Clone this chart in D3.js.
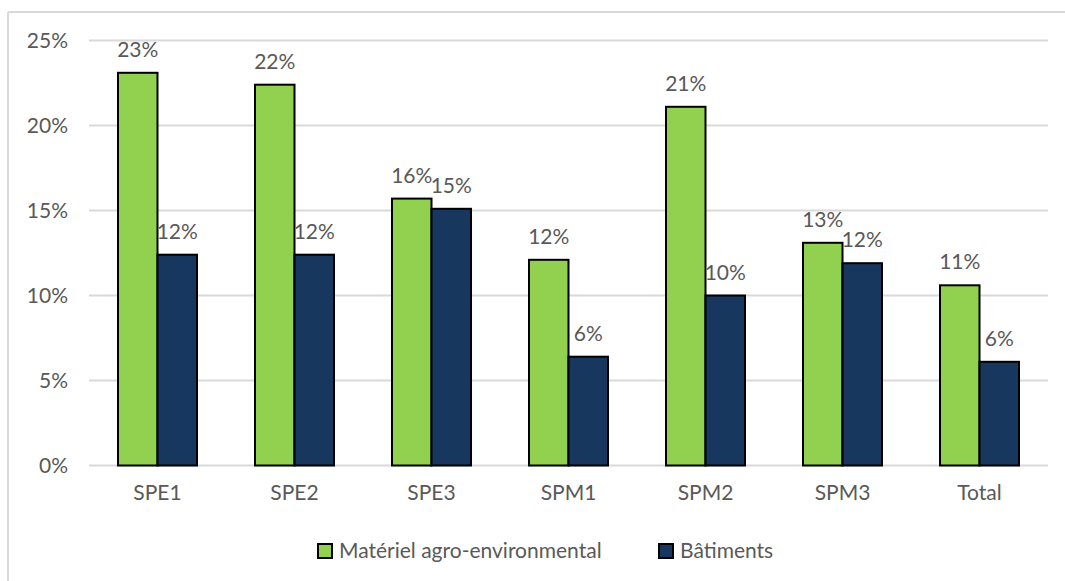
<!DOCTYPE html>
<html>
<head>
<meta charset="utf-8">
<script src="https://cdn.jsdelivr.net/npm/d3@7"></script>
<style>
  html, body { margin: 0; padding: 0; background: #fff; }
  svg { display: block; font-family: Lato, "Open Sans", sans-serif; }
</style>
</head>
<body>
<svg id="chart" width="1065" height="581"></svg>
<script>
// Share of investments by category and farm group
const categories = ["SPE1", "SPE2", "SPE3", "SPM1", "SPM2", "SPM3", "Total"];
const materiel = [0.231, 0.224, 0.157, 0.121, 0.211, 0.131, 0.106];
const batiments = [0.124, 0.124, 0.151, 0.064, 0.100, 0.119, 0.061];
const seriesNames = ["Matériel agro-environmental", "Bâtiments"];
const seriesColors = ["#92d050", "#17375e"];
const yTicks = [0, 0.05, 0.10, 0.15, 0.20, 0.25];

const svg = d3.select("#chart");
const W = 1065, H = 581;
const margin = { left: 89, right: 17, top: 40.5, bottom: 115.5 };
const innerW = W - margin.left - margin.right;
const innerH = H - margin.top - margin.bottom;
const textColor = "#595959";
const gridColor = "#d9d9d9";
const fontSize = "21px";

// Chart frame
svg.append("line").attr("x1", 8).attr("x2", W).attr("y1", 12).attr("y2", 12)
  .attr("stroke", gridColor).attr("stroke-width", 2);
svg.append("line").attr("x1", 8).attr("x2", 8).attr("y1", 12).attr("y2", H)
  .attr("stroke", gridColor).attr("stroke-width", 2);

const g = svg.append("g").attr("transform", `translate(${margin.left},${margin.top})`);

const x = d3.scaleBand().domain(categories).range([0, innerW]).paddingInner(0).paddingOuter(0);
const x1 = d3.scaleBand().domain([0, 1]).range([29, x.bandwidth() - 29]);
const y = d3.scaleLinear().domain([0, 0.25]).range([innerH, 0]);

// Gridlines
g.append("g").selectAll("line").data(yTicks).join("line")
  .attr("x1", 0).attr("x2", innerW)
  .attr("y1", d => y(d)).attr("y2", d => y(d))
  .attr("stroke", gridColor).attr("stroke-width", 2);

// Y axis labels
const yAxis = d3.axisLeft(y).tickValues(yTicks).tickFormat(d3.format(".0%")).tickSize(0).tickPadding(21);
g.append("g").call(yAxis)
  .call(s => s.select(".domain").remove())
  .call(s => s.selectAll("text").attr("fill", textColor).style("font-size", fontSize).style("font-family", "Lato, sans-serif"));

// X axis labels
const xAxis = d3.axisBottom(x).tickSize(0).tickPadding(20);
g.append("g").attr("transform", `translate(0,${innerH})`).call(xAxis)
  .call(s => s.select(".domain").remove())
  .call(s => s.selectAll("text").attr("fill", textColor).style("font-size", fontSize).style("font-family", "Lato, sans-serif"));

// Bars
const rows = categories.map((c, i) => ({ cat: c, vals: [materiel[i], batiments[i]] }));
const groups = g.append("g").selectAll("g").data(rows).join("g")
  .attr("transform", d => `translate(${x(d.cat)},0)`);

groups.selectAll("rect").data(d => d.vals.map((v, k) => ({ v, k }))).join("rect")
  .attr("x", d => x1(d.k))
  .attr("width", x1.bandwidth())
  .attr("y", d => y(d.v))
  .attr("height", d => innerH - y(d.v))
  .attr("fill", d => seriesColors[d.k])
  .attr("stroke", "#000")
  .attr("stroke-width", 2);

// Value labels
groups.selectAll("text.val").data(d => d.vals.map((v, k) => ({ v, k }))).join("text")
  .attr("class", "val")
  .attr("x", d => x1(d.k) + x1.bandwidth() / 2)
  .attr("y", d => y(d.v) - 16)
  .attr("text-anchor", "middle")
  .attr("fill", textColor)
  .style("font-size", fontSize)
  .text(d => d3.format(".0%")(d.v));

// Legend
const legend = svg.append("g").attr("transform", "translate(317,543)");
const legendX = [0, 341];
seriesNames.forEach((name, k) => {
  const lg = legend.append("g").attr("transform", `translate(${legendX[k]},0)`);
  lg.append("rect").attr("x", 1).attr("y", 1).attr("width", 14).attr("height", 14)
    .attr("fill", seriesColors[k]).attr("stroke", "#000").attr("stroke-width", 2);
  lg.append("text").attr("x", 22).attr("y", 8).attr("dy", "0.35em")
    .attr("fill", textColor).style("font-size", fontSize).text(name);
});
</script>
</body>
</html>
